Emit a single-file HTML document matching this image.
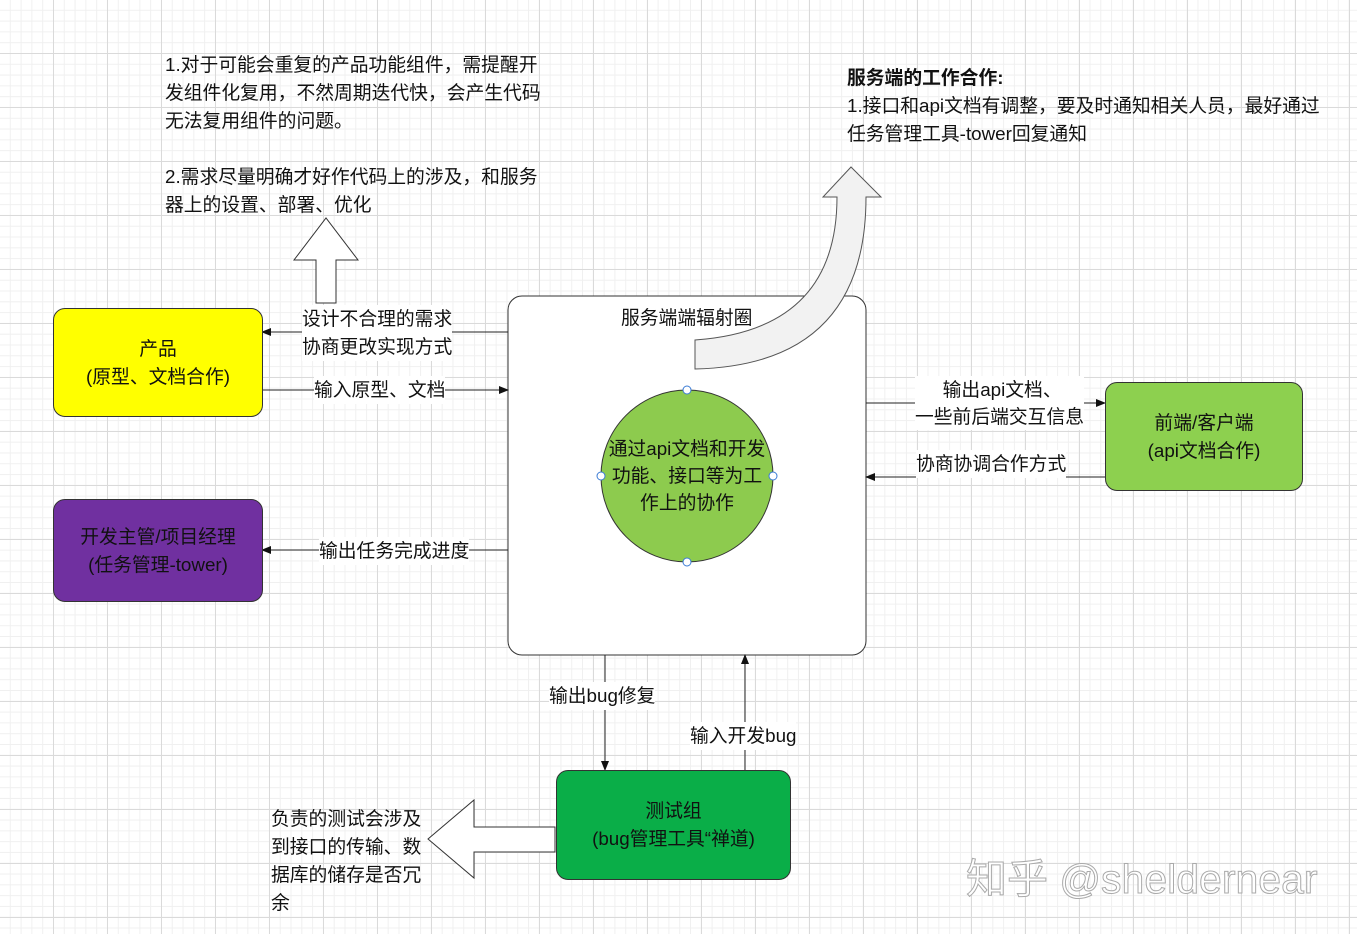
<!DOCTYPE html><html><head><meta charset="utf-8"><style>
body{margin:0;width:1357px;height:934px;overflow:hidden;font-family:"Liberation Sans","Noto Sans CJK SC",sans-serif;
background-color:#fff;background-image:linear-gradient(#dadada 1px,transparent 1px),linear-gradient(90deg,#dadada 1px,transparent 1px),linear-gradient(#f0f0f0 1px,transparent 1px),linear-gradient(90deg,#f0f0f0 1px,transparent 1px);
background-size:54px 54px,54px 54px,10.8px 10.8px,10.8px 10.8px;background-position:-1px -1px;}
.t{position:absolute;font-size:18.8px;color:#111;line-height:28px;white-space:nowrap}
.b{position:absolute;border:1px solid #333;border-radius:12px;display:flex;align-items:center;justify-content:center;text-align:center;font-size:18.8px;line-height:28px;color:#111}
</style></head><body>
<svg width="1357" height="934" style="position:absolute;left:0;top:0">
<defs><marker id="a" markerWidth="10" markerHeight="10" refX="9" refY="5" orient="auto" markerUnits="userSpaceOnUse"><path d="M0,1 L10,5 L0,9 Z" fill="#111"/></marker></defs>
<rect x="508" y="296" width="358" height="359" rx="14" fill="#fff" stroke="#333"/>
<g stroke="#222" stroke-width="1" fill="none">
<line x1="508" y1="332" x2="262" y2="332" marker-end="url(#a)"/>
<line x1="262" y1="390" x2="508" y2="390" marker-end="url(#a)"/>
<line x1="508" y1="550" x2="262" y2="550" marker-end="url(#a)"/>
<line x1="866" y1="403" x2="1105" y2="403" marker-end="url(#a)"/>
<line x1="1105" y1="477" x2="866" y2="477" marker-end="url(#a)"/>
<line x1="605" y1="655" x2="605" y2="770" marker-end="url(#a)"/>
<line x1="745" y1="770" x2="745" y2="655" marker-end="url(#a)"/>
</g>
<path d="M316,303 L316,260 L294,260 L326,218 L358,260 L336,260 L336,303 Z" fill="#fff" stroke="#333"/>
<path d="M555,827 L474,827 L474,800 L428,839 L474,878 L474,852 L555,852 Z" fill="#fff" stroke="#333"/>
<path d="M695,340 Q837,330 837,197 L823,197 L851,167 L881,197 L866,197 Q866,365 695,369 Z" fill="#f2f2f2" stroke="#555"/>
<circle cx="687" cy="476" r="86" fill="#8dcb4e" stroke="#333"/>
<g fill="#fff" stroke="#3a7bd5"><circle cx="687" cy="390" r="4"/><circle cx="687" cy="562" r="4"/><circle cx="601" cy="476" r="4"/><circle cx="773" cy="476" r="4"/></g>
</svg>
<div class="b" style="left:53px;top:308px;width:208px;height:107px;background:#ffff00">产品<br>(原型、文档合作)</div>
<div class="b" style="left:53px;top:499px;width:208px;height:101px;background:#7030a0">开发主管/项目经理<br>(任务管理-tower)</div>
<div class="b" style="left:1105px;top:382px;width:196px;height:107px;background:#8dd04f">前端/客户端<br>(api文档合作)</div>
<div class="b" style="left:556px;top:770px;width:233px;height:108px;background:#0aae48">测试组<br>(bug管理工具“禅道)</div>
<div class="t" style="left:602px;top:435px;width:170px;text-align:center;line-height:27px">通过api文档和开发<br>功能、接口等为工<br>作上的协作</div>
<div class="t" style="left:621px;top:304px">服务端端辐射圈</div>
<div class="t" style="left:165px;top:51px">1.对于可能会重复的产品功能组件，需提醒开<br>发组件化复用，不然周期迭代快，会产生代码<br>无法复用组件的问题。<br><br>2.需求尽量明确才好作代码上的涉及，和服务<br>器上的设置、部署、优化</div>
<div class="t" style="left:847px;top:64px"><b>服务端的工作合作:</b><br>1.接口和api文档有调整，要及时通知相关人员，最好通过<br>任务管理工具-tower回复通知</div>
<div class="t" style="left:302px;top:305px;background:#fff">设计不合理的需求<br>协商更改实现方式</div>
<div class="t" style="left:314px;top:376px;background:#fff">输入原型、文档</div>
<div class="t" style="left:319px;top:537px;background:#fff">输出任务完成进度</div>
<div class="t" style="left:915px;top:376px;text-align:center;background:#fff;line-height:27px">&nbsp;输出api文档、<br>一些前后端交互信息</div>
<div class="t" style="left:916px;top:450px;background:#fff">协商协调合作方式</div>
<div class="t" style="left:549px;top:682px;background:#fff">输出bug修复</div>
<div class="t" style="left:690px;top:722px;background:#fff">输入开发bug</div>
<div class="t" style="left:271px;top:805px;line-height:28px">负责的测试会涉及<br>到接口的传输、数<br>据库的储存是否冗<br>余</div>
<div class="t" style="left:966px;top:853px;font-size:41px;line-height:52px;color:#fff;-webkit-text-stroke:1px #aaa">知乎 @sheldernear</div>
</body></html>
